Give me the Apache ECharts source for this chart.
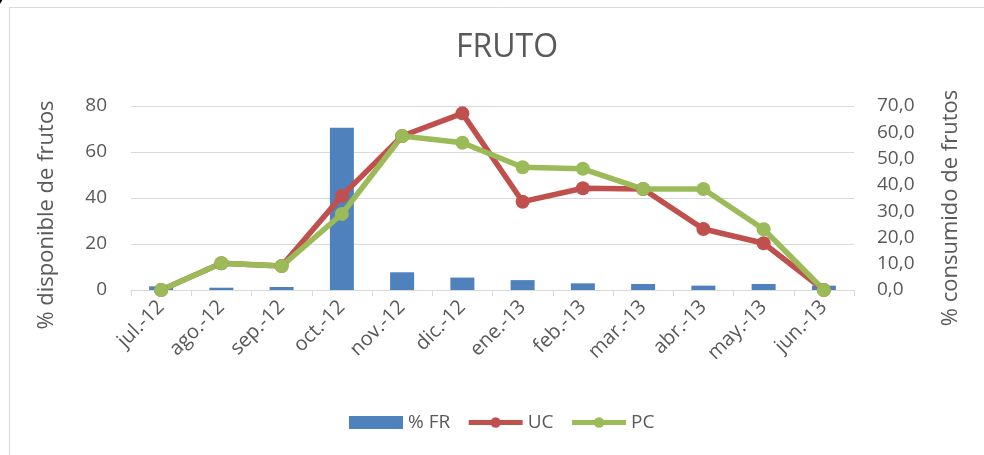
<!DOCTYPE html>
<html>
<head>
<meta charset="utf-8">
<script src="https://cdn.jsdelivr.net/npm/echarts@6/dist/echarts.min.js"></script>
<style>
  html, body { margin: 0; padding: 0; background: #fff; }
  #chart { width: 984px; height: 455px; }
</style>
</head>
<body>
<div id="chart"></div>
<script>
// Months of the sampling period
const months = ['jul.-12', 'ago.-12', 'sep.-12', 'oct.-12', 'nov.-12', 'dic.-12',
                'ene.-13', 'feb.-13', 'mar.-13', 'abr.-13', 'may.-13', 'jun.-13'];
// % of available fruits (left axis, bars)
const frPct = [1.6, 1.0, 1.3, 70.5, 7.7, 5.4, 4.3, 2.9, 2.6, 1.9, 2.6, 1.9];
// % fruit consumption (right axis, lines)
const ucPct = [0.0, 10.2, 9.1, 35.8, 58.6, 67.2, 33.6, 38.7, 38.4, 23.2, 17.8, 0.0];
const pcPct = [0.0, 10.2, 9.1, 28.9, 58.6, 56.0, 46.7, 46.1, 38.4, 38.4, 23.1, 0.0];

const FONT = '"Open Sans", "Noto Sans", sans-serif';
const TXT = '#595959';
const GRID = '#d9d9d9';
const RED = '#C0504D';
const GREEN = '#9BBB59';

const chart = echarts.init(document.getElementById('chart'), null, { renderer: 'canvas' });

chart.setOption({
  animation: false,
  backgroundColor: '#fff',
  textStyle: { fontFamily: FONT },
  title: {
    text: 'FRUTO',
    left: 451,
    top: 27,
    textStyle: { fontFamily: FONT, fontSize: 32, fontWeight: 'normal', color: TXT }
  },
  graphic: [
    {
      type: 'rect',
      shape: { x: 9.5, y: 7.5, width: 1000, height: 500 },
      style: { fill: 'none', stroke: GRID, lineWidth: 1 },
      silent: true
    },
    {
      type: 'text',
      x: -4, y: -18,
      style: { text: ')', font: 'italic 26px "Liberation Serif", serif', fill: '#000' },
      silent: true
    }
  ],
  legend: {
    top: 408,
    left: 344,
    itemGap: 16,
    itemWidth: 54,
    itemHeight: 13,
    textStyle: { fontFamily: FONT, fontSize: 19, color: TXT },
    data: [
      { name: '% FR', icon: 'rect' },
      { name: 'UC', lineStyle: { width: 5, color: RED } },
      { name: 'PC', lineStyle: { width: 5, color: GREEN } }
    ]
  },
  grid: { left: 131, right: 130, top: 106, bottom: 165, containLabel: false },
  xAxis: {
    type: 'category',
    data: months,
    boundaryGap: true,
    axisLine: { show: true, lineStyle: { color: GRID, width: 1 } },
    axisTick: { show: true, length: 6, alignWithLabel: false, lineStyle: { color: GRID } },
    axisLabel: { rotate: 45, margin: 14, fontFamily: FONT, fontSize: 20, color: TXT, interval: 0 }
  },
  yAxis: [
    {
      type: 'value',
      min: 0, max: 80, interval: 20,
      name: '% disponible de frutos',
      nameLocation: 'middle',
      nameGap: 73,
      nameRotate: 90,
      nameTextStyle: { fontFamily: FONT, fontSize: 22, color: TXT, padding: [0, 34, 0, 0] },
      axisLine: { show: false },
      axisTick: { show: false },
      axisLabel: { margin: 24, fontFamily: FONT, fontSize: 19, color: TXT },
      splitLine: { show: true, lineStyle: { color: GRID, width: 1 } }
    },
    {
      type: 'value',
      position: 'right',
      min: 0, max: 70, interval: 10,
      name: '% consumido de frutos',
      nameLocation: 'middle',
      nameGap: 86,
      nameRotate: 90,
      nameTextStyle: { fontFamily: FONT, fontSize: 22, color: TXT, padding: [0, 20, 0, 0] },
      axisLine: { show: false },
      axisTick: { show: false },
      axisLabel: {
        margin: 23, fontFamily: FONT, fontSize: 19, color: TXT,
        formatter: v => v.toFixed(1).replace('.', ',')
      },
      splitLine: { show: false }
    }
  ],
  series: [
    {
      name: '% FR',
      type: 'bar',
      yAxisIndex: 0,
      data: frPct,
      barWidth: 24,
      itemStyle: { color: '#4F81BD' }
    },
    {
      name: 'UC',
      type: 'line',
      yAxisIndex: 1,
      data: ucPct,
      symbol: 'circle',
      symbolSize: 14,
      lineStyle: { color: RED, width: 5.5 },
      itemStyle: { color: RED }
    },
    {
      name: 'PC',
      type: 'line',
      yAxisIndex: 1,
      data: pcPct,
      symbol: 'circle',
      symbolSize: 14,
      lineStyle: { color: GREEN, width: 5.5 },
      itemStyle: { color: GREEN }
    }
  ]
});
</script>
</body>
</html>
